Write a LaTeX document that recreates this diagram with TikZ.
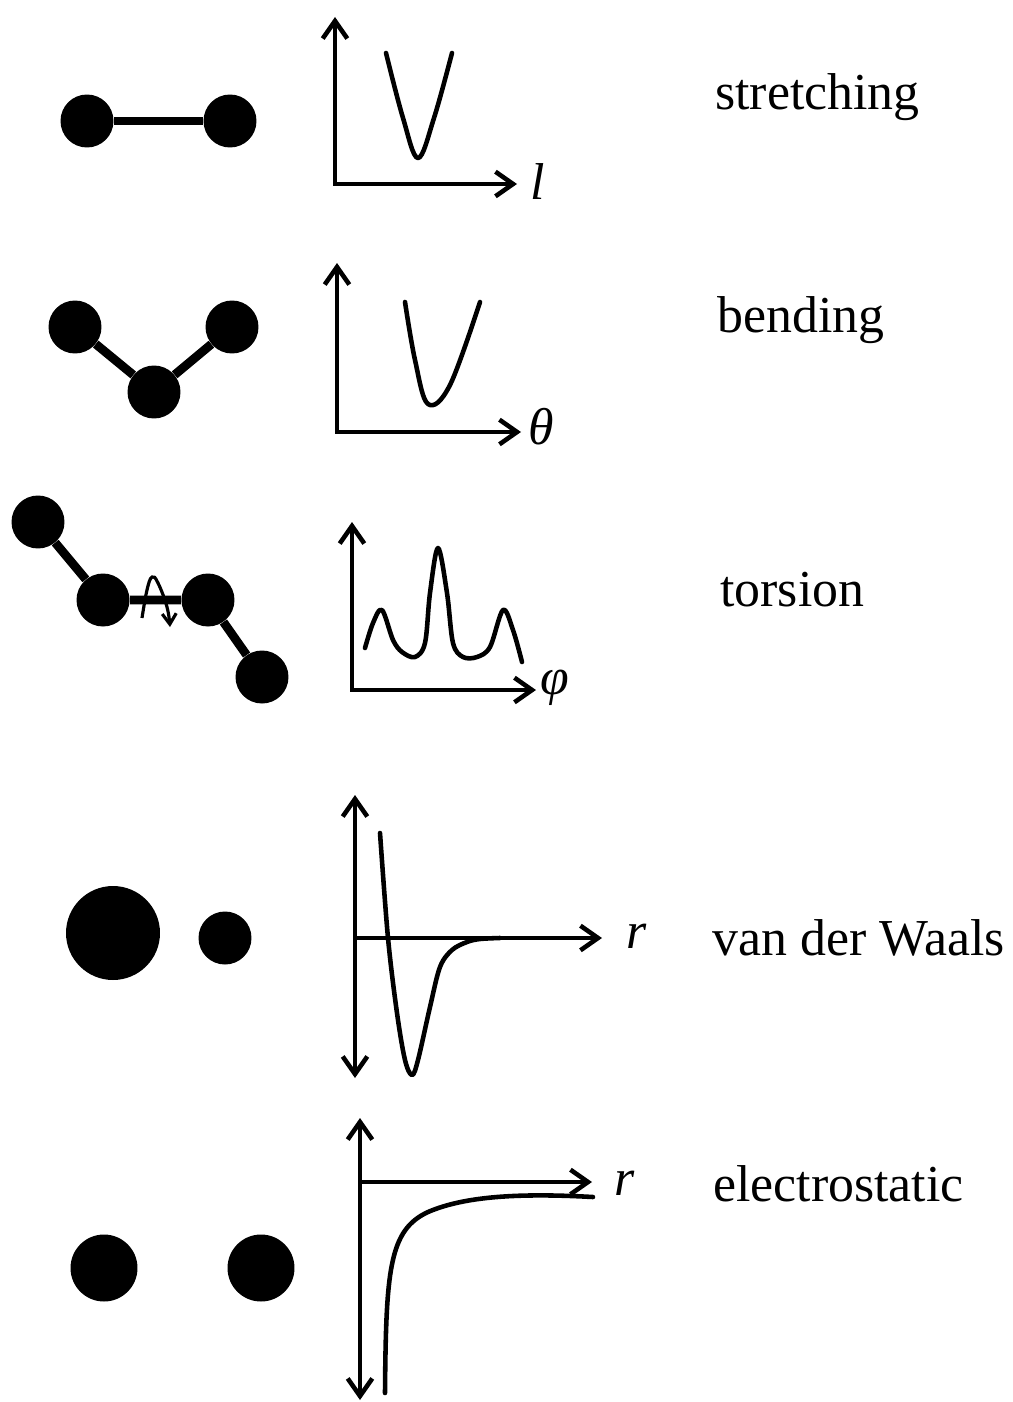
\documentclass[tikz,border=0pt]{standalone}
\usepackage{fontspec}
\setmainfont{Liberation Serif}
\usetikzlibrary{arrows.meta}

\begin{document}
\begin{tikzpicture}[
  x=0.02cm, y=-0.02cm,
  font=\fontsize{29.5}{34}\selectfont,
  atom/.style={circle, fill=black, inner sep=0pt, minimum size=1.06cm},
  midatom/.style={atom, minimum size=1.34cm},
  bigatom/.style={atom, minimum size=1.88cm},
  bond/.style={line width=5pt},
  ax/.style={line width=2.6pt, -{Straight Barb[length=10pt, width=14pt]}},
  axx/.style={line width=2.6pt, {Straight Barb[length=10pt, width=14pt]}-{Straight Barb[length=10pt, width=14pt]}},
  curve/.style={line width=2.6pt, line cap=round, line join=round},
  twist/.style={line width=1.8pt, -{Straight Barb[length=6pt, width=8pt]}},
  lbl/.style={anchor=base west, inner sep=0pt},
  var/.style={font=\fontsize{29.5}{34}\selectfont\itshape, anchor=west, inner sep=0pt}
]
\useasboundingbox (0,0) rectangle (1013,1402);

% stretching
\node[atom] (s1) at (87,121) {};
\node[atom] (s2) at (230,121) {};
\draw[bond] (s1) -- (s2);
\coordinate (so) at (335,184);
\coordinate (sy) at (335,17);
\coordinate (sx) at (517,184);
\draw[axx] (sy) -- (so) -- (sx);
\draw[curve] plot[smooth, tension=0.6] coordinates {(386,53) (403,118) (418,158) (434,118) (452,53)};
\node[var] (sl) at (530,182) {l};
\node[lbl] (stxt) at (715,110) {stretching};

% bending
\node[atom] (b1) at (75,327) {};
\node[atom] (b2) at (232,327) {};
\node[atom] (b3) at (154,392) {};
\draw[bond] (b1) -- (b3) -- (b2);
\coordinate (bo) at (337,432);
\coordinate (by) at (337,263);
\coordinate (bx) at (521,432);
\draw[axx] (by) -- (bo) -- (bx);
\draw[curve] plot[smooth, tension=0.6] coordinates {(405,302) (415,360) (428,404) (450,385) (480,302)};
\node[var] (bth) at (528,427) {θ};
\node[lbl] (btxt) at (717,332) {bending};

% torsion
\node[atom] (t1) at (38,522) {};
\node[atom] (t2) at (103,600) {};
\node[atom] (t3) at (208,600) {};
\node[atom] (t4) at (262,677) {};
\draw[bond] (t1) -- (t2) -- (t3) -- (t4);
\draw[twist] plot[smooth, tension=0.7] coordinates {(142,618) (147,590) (152,577) (158,583) (167,607) (170,627)};
\coordinate (to) at (352,690);
\coordinate (ty) at (352,522);
\coordinate (tx) at (536,690);
\draw[axx] (ty) -- (to) -- (tx);
\draw[curve] plot[smooth, tension=0.55] coordinates {(365,648) (373,623) (382,610) (393,640) (402,652) (415,657) (425,643) (430,593) (438,548) (447,593) (453,643) (463,657) (477,657) (490,647) (503,610) (513,630) (522,662)};
\node[var] (tphi) at (540,688) {φ};
\node[lbl] (ttxt) at (720,606) {torsion};

% van der Waals
\node[bigatom] (v1) at (113,933) {};
\node[atom] (v2) at (225,938) {};
\coordinate (vt) at (355,795);
\coordinate (vb) at (355,1078);
\coordinate (vo) at (355,938);
\coordinate (vx) at (602,938);
\draw[axx] (vt) -- (vb);
\draw[ax] (vo) -- (vx);
\draw[curve] plot[smooth, tension=0.55] coordinates {(380,833) (388,938) (397,1013) (405,1060) (412,1075) (418,1060) (430,1007) (440,967) (452,950) (467,942) (480,939) (500,938)};
\node[var] (vr) at (626,936) {r};
\node[lbl] (vtxt) at (712,955) {van der Waals};

% electrostatic
\node[midatom] (e1) at (104,1268) {};
\node[midatom] (e2) at (261,1268) {};
\coordinate (et) at (360,1118);
\coordinate (eb) at (360,1400);
\coordinate (eo) at (360,1182);
\coordinate (ex) at (592,1182);
\draw[axx] (et) -- (eb);
\draw[ax] (eo) -- (ex);
\draw[curve] (385,1393) .. controls (386,1270) and (389,1230) .. (428,1212)
  .. controls (465,1196) and (520,1193) .. (593,1197);
\node[var] (er) at (614,1183) {r};
\node[lbl] (etxt) at (713,1201) {electrostatic};
\end{tikzpicture}
\end{document}
